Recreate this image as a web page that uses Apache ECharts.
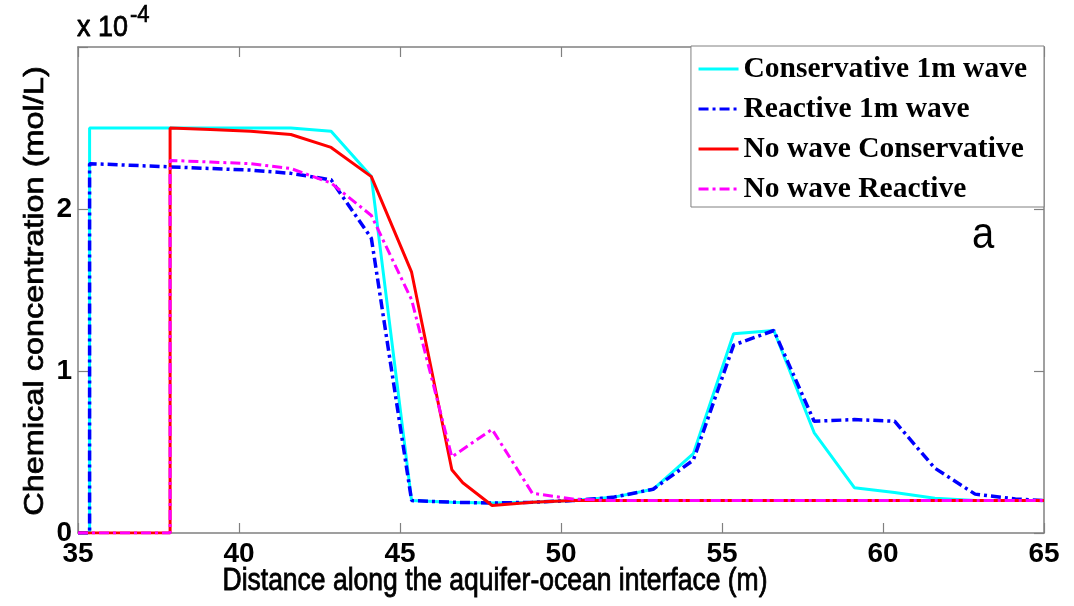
<!DOCTYPE html>
<html>
<head>
<meta charset="utf-8">
<script src="https://cdn.jsdelivr.net/npm/echarts@6/dist/echarts.min.js"></script>
<style>
  html, body { margin: 0; padding: 0; background: #fff; }
  #chart { width: 1074px; height: 606px; }
</style>
</head>
<body>
<div id="chart"></div>
<script>
// Distance along the interface (m) and concentration (x 10^-4 mol/L)
const consWaveX = [35, 35.36, 35.36, 36.61, 37.86, 39.11, 40.36, 41.61, 42.86, 44.11, 45.36, 46.61, 47.86, 49.11, 50.36, 51.61, 52.86, 54.11, 55.36, 56.61, 57.86, 59.11, 60.36, 61.61, 62.86, 64.11, 65];
const consWaveY = [0, 0, 2.50, 2.50, 2.50, 2.50, 2.50, 2.50, 2.48, 2.20, 0.20, 0.19, 0.185, 0.19, 0.20, 0.22, 0.27, 0.49, 1.23, 1.25, 0.62, 0.28, 0.25, 0.215, 0.20, 0.20, 0.20];

const reacWaveX = [35, 35.36, 35.36, 36.61, 37.86, 39.11, 40.36, 41.61, 42.86, 44.11, 45.36, 46.61, 47.86, 49.11, 50.36, 51.61, 52.86, 54.11, 55.36, 56.61, 57.86, 59.11, 60.36, 61.61, 62.86, 64.11, 65];
const reacWaveY = [0, 0, 2.28, 2.27, 2.26, 2.25, 2.24, 2.22, 2.18, 1.82, 0.20, 0.19, 0.185, 0.19, 0.20, 0.22, 0.27, 0.45, 1.16, 1.25, 0.69, 0.70, 0.69, 0.40, 0.24, 0.21, 0.20];

const consNoWaveX = [35, 37.86, 37.86, 39.11, 40.36, 41.61, 42.86, 44.11, 45.36, 46.61, 46.95, 47.86, 49.11, 50.36, 51.61, 52.86, 54.11, 55.36, 56.61, 57.86, 59.11, 60.36, 61.61, 62.86, 64.11, 65];
const consNoWaveY = [0, 0, 2.50, 2.49, 2.48, 2.46, 2.38, 2.20, 1.61, 0.39, 0.31, 0.17, 0.19, 0.20, 0.20, 0.20, 0.20, 0.20, 0.20, 0.20, 0.20, 0.20, 0.20, 0.20, 0.20, 0.20];

const reacNoWaveX = [35, 37.86, 37.86, 39.11, 40.36, 41.61, 42.86, 44.11, 45.36, 46.61, 47.86, 49.11, 50.36, 51.61, 52.86, 54.11, 55.36, 56.61, 57.86, 59.11, 60.36, 61.61, 62.86, 64.11, 65];
const reacNoWaveY = [0, 0, 2.30, 2.29, 2.28, 2.25, 2.16, 1.96, 1.44, 0.47, 0.64, 0.245, 0.21, 0.20, 0.20, 0.20, 0.20, 0.20, 0.20, 0.20, 0.20, 0.20, 0.20, 0.20, 0.20];

const seriesNames = ['Conservative 1m wave', 'Reactive 1m wave', 'No wave Conservative', 'No wave Reactive'];
const xTicks = [35, 40, 45, 50, 55, 60, 65];
const yTickLabels = ['0', '1', '2'];
const xTitle = 'Distance along the aquifer-ocean interface (m)';
const yTitle = 'Chemical concentration (mol/L)';

const pairs = (xs, ys) => xs.map((x, i) => [x, ys[i]]);

const axisGrey = '#808080';
const sansFont = '"Liberation Sans", Arial, sans-serif';
const serifFont = '"Liberation Serif", "Times New Roman", serif';
const dashDot = [10, 4, 3, 4];

const chart = echarts.init(document.getElementById('chart'), null, { renderer: 'canvas' });

const boxAxis = {
  type: 'value',
  axisLine: { show: true, onZero: false, lineStyle: { color: axisGrey, width: 1.5 } },
  axisTick: { show: true, inside: true, length: 10, lineStyle: { color: axisGrey, width: 1.2 } },
  splitLine: { show: false }
};

const tickFont = { color: '#000', fontFamily: sansFont, fontSize: 28, fontWeight: 'bold' };

chart.setOption({
  animation: false,
  backgroundColor: '#fff',
  grid: { left: 78, right: 30, top: 47, bottom: 73 },
  xAxis: [
    Object.assign({}, boxAxis, {
      min: xTicks[0], max: xTicks[xTicks.length - 1], interval: 5,
      position: 'bottom',
      axisLabel: Object.assign({ margin: 7 }, tickFont)
    }),
    Object.assign({}, boxAxis, {
      min: xTicks[0], max: xTicks[xTicks.length - 1], interval: 5,
      position: 'top', axisLabel: { show: false }
    })
  ],
  yAxis: [
    Object.assign({}, boxAxis, {
      min: 0, max: 3, interval: 1, position: 'left',
      axisLabel: Object.assign({
        margin: 6,
        formatter: v => (yTickLabels[v] !== undefined ? yTickLabels[v] : '')
      }, tickFont)
    }),
    Object.assign({}, boxAxis, {
      min: 0, max: 3, interval: 1, position: 'right', axisLabel: { show: false }
    })
  ],
  legend: {
    data: seriesNames,
    orient: 'vertical',
    right: 30, top: 46,
    itemWidth: 40, itemHeight: 14, itemGap: 10,
    padding: [8, 17, 3, 6],
    backgroundColor: '#fff',
    borderColor: axisGrey, borderWidth: 1,
    itemStyle: { opacity: 0 },
    lineStyle: { width: 3.2 },
    textStyle: { color: '#000', fontFamily: serifFont, fontWeight: 'bold', fontSize: 29.5 }
  },
  graphic: [
    {
      // axis titles, slightly stretched vertically
      type: 'text', x: 495, y: 582, scaleY: 1.15,
      style: {
        text: xTitle, fontFamily: sansFont, fontSize: 26.5, fill: '#000',
        stroke: '#000', lineWidth: 0.7,
        textAlign: 'center', textVerticalAlign: 'middle'
      }
    },
    {
      type: 'text', x: 35, y: 291, rotation: Math.PI / 2, scaleX: 1.16,
      style: {
        text: yTitle, fontFamily: sansFont, fontSize: 28, fill: '#000',
        stroke: '#000', lineWidth: 0.7,
        textAlign: 'center', textVerticalAlign: 'middle'
      }
    },
    {
      // exponent of the concentration axis
      type: 'text', x: 77, y: 28, scaleY: 1.1,
      style: {
        text: 'x 10', fontFamily: sansFont, fontSize: 27, fill: '#000',
        stroke: '#000', lineWidth: 0.7,
        textAlign: 'left', textVerticalAlign: 'middle'
      }
    },
    {
      type: 'text', x: 130, y: 15, scaleY: 1.1,
      style: {
        text: '-4', fontFamily: sansFont, fontSize: 22, fill: '#000',
        stroke: '#000', lineWidth: 0.6,
        textAlign: 'left', textVerticalAlign: 'middle'
      }
    },
    {
      // panel letter
      type: 'text', x: 983, y: 236, scaleY: 1.13,
      style: {
        text: 'a', fontFamily: sansFont, fontSize: 40, fill: '#000',
        textAlign: 'center', textVerticalAlign: 'middle'
      }
    }
  ],
  series: [
    {
      name: seriesNames[0], type: 'line', data: pairs(consWaveX, consWaveY),
      symbol: 'none', color: '#00FFFF',
      lineStyle: { color: '#00FFFF', width: 3 }
    },
    {
      name: seriesNames[1], type: 'line', data: pairs(reacWaveX, reacWaveY),
      symbol: 'none', color: '#0000FF',
      lineStyle: { color: '#0000FF', width: 3.5, type: dashDot }
    },
    {
      name: seriesNames[2], type: 'line', data: pairs(consNoWaveX, consNoWaveY),
      symbol: 'none', color: '#FF0000',
      lineStyle: { color: '#FF0000', width: 3 }
    },
    {
      name: seriesNames[3], type: 'line', data: pairs(reacNoWaveX, reacNoWaveY),
      symbol: 'none', color: '#FF00FF',
      lineStyle: { color: '#FF00FF', width: 3, type: dashDot }
    }
  ]
});
</script>
</body>
</html>
